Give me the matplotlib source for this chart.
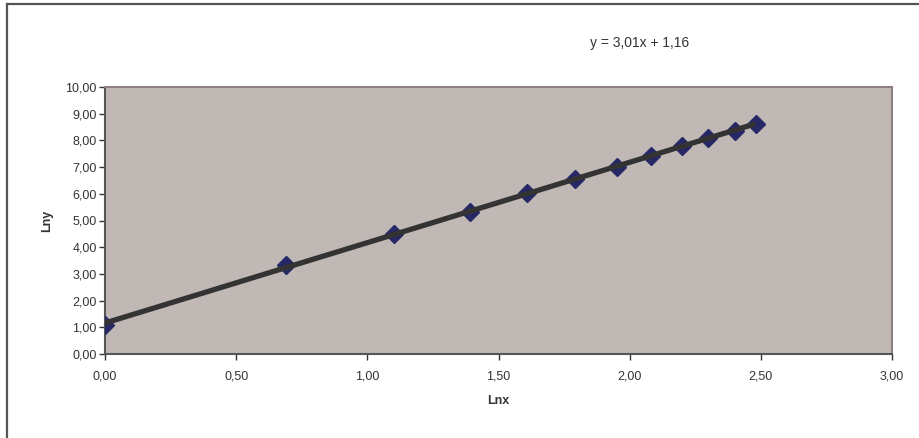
import numpy as np
import matplotlib.pyplot as plt
from matplotlib.lines import Line2D

plt.rcParams['font.family'] = ['Liberation Sans', 'DejaVu Sans']

# dane (ln x, ln y)
lnx = [0.00, 0.69, 1.10, 1.39, 1.61, 1.79, 1.95, 2.08, 2.20, 2.30, 2.40, 2.48]
lny = [1.10, 3.32, 4.50, 5.30, 6.02, 6.56, 7.00, 7.42, 7.80, 8.08, 8.36, 8.62]

# linia trendu
slope = 3.01
intercept = 1.16
eq_text = "y = 3,01x + 1,16"

xticks = [0, 0.5, 1.0, 1.5, 2.0, 2.5, 3.0]
yticks = list(range(0, 11))


def fmt(v):
    return f"{v:.2f}".replace(".", ",")


fig = plt.figure(figsize=(9.19, 4.38), dpi=100)
ax = fig.add_axes([105 / 919, 1 - 354 / 438, (892 - 105) / 919, (354 - 87) / 438])
ax.set_facecolor("#c0b8b5")

xt = np.array([min(lnx), max(lnx)])
ax.plot(lnx, lny, linestyle="none", marker="D", markersize=9,
        color="#262866", zorder=3)
ax.plot(xt, slope * xt + intercept, color="#333333", linewidth=3.8,
        solid_capstyle="butt", zorder=4)

ax.set_xlim(0, 3)
ax.set_ylim(0, 10)
ax.set_xticks(xticks)
ax.set_xticklabels([fmt(v) for v in xticks])
ax.set_yticks(yticks)
ax.set_yticklabels([fmt(v) for v in yticks])
ax.tick_params(labelsize=9, colors="#333333", length=4, width=1,
               direction="out")
ax.tick_params(axis="x", pad=8)
ax.tick_params(axis="y", pad=2)

for s in ["left", "bottom"]:
    ax.spines[s].set_color("#555555")
    ax.spines[s].set_linewidth(1.5)
for s in ["top", "right"]:
    ax.spines[s].set_color("#8c8080")
    ax.spines[s].set_linewidth(1.5)

ax.set_xlabel("Lnx", fontsize=9, fontweight="bold", color="#333333", labelpad=9)
ax.set_ylabel("Lny", fontsize=9, fontweight="bold", color="#333333", labelpad=9)

fig.text(640 / 919, 1 - 43 / 438, eq_text, fontsize=10, color="#333333",
         ha="center", va="center")

# ramka wykresu
fig.add_artist(Line2D([7 / 919, 7 / 919], [0, 1 - 4 / 438], transform=fig.transFigure,
                      color="#555555", linewidth=1.6))
fig.add_artist(Line2D([7 / 919, 1], [1 - 4 / 438, 1 - 4 / 438], transform=fig.transFigure,
                      color="#555555", linewidth=1.6))

fig.savefig("out.png", dpi=100)
